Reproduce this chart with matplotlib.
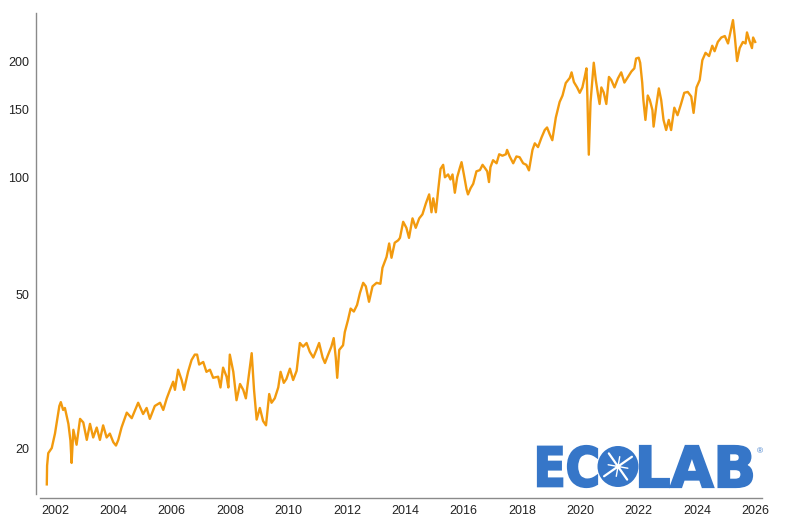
import math
import matplotlib
matplotlib.use('Agg')
import matplotlib.pyplot as plt
from matplotlib.ticker import NullLocator
from matplotlib.textpath import TextPath
from matplotlib.patches import PathPatch, Circle
from matplotlib.font_manager import FontProperties
from matplotlib.transforms import Affine2D
from matplotlib.lines import Line2D

plt.rcParams['font.family'] = ['Liberation Sans', 'DejaVu Sans']

# Share price (USD), x as decimal years
years = [
    2001.72, 2001.73, 2001.77, 2001.89, 2002.00, 2002.06, 2002.15, 2002.20, 2002.28, 2002.34,
    2002.46, 2002.53, 2002.57, 2002.63, 2002.74, 2002.86, 2002.97, 2003.09, 2003.20, 2003.31,
    2003.43, 2003.54, 2003.65, 2003.77, 2003.88, 2004.00, 2004.09, 2004.17, 2004.28, 2004.46,
    2004.63, 2004.85, 2005.02, 2005.14, 2005.25, 2005.42, 2005.60, 2005.71, 2005.83, 2005.94,
    2006.05, 2006.11, 2006.22, 2006.34, 2006.42, 2006.56, 2006.68, 2006.79, 2006.87, 2006.94,
    2007.08, 2007.19, 2007.31, 2007.42, 2007.59, 2007.67, 2007.76, 2007.88, 2007.94, 2007.99,
    2008.11, 2008.22, 2008.34, 2008.45, 2008.54, 2008.62, 2008.74, 2008.82, 2008.91, 2009.02,
    2009.13, 2009.23, 2009.34, 2009.42, 2009.53, 2009.65, 2009.73, 2009.84, 2009.93, 2010.05,
    2010.16, 2010.28, 2010.39, 2010.50, 2010.62, 2010.73, 2010.85, 2010.96, 2011.05, 2011.17,
    2011.25, 2011.36, 2011.47, 2011.55, 2011.62, 2011.67, 2011.74, 2011.87, 2011.93, 2012.04,
    2012.13, 2012.24, 2012.35, 2012.45, 2012.56, 2012.65, 2012.76, 2012.88, 2013.02, 2013.15,
    2013.22, 2013.36, 2013.45, 2013.53, 2013.64, 2013.76, 2013.82, 2013.93, 2014.04, 2014.13,
    2014.25, 2014.36, 2014.48, 2014.59, 2014.71, 2014.82, 2014.90, 2014.96, 2015.05, 2015.13,
    2015.21, 2015.30, 2015.36, 2015.47, 2015.55, 2015.62, 2015.70, 2015.78, 2015.87, 2015.93,
    2016.01, 2016.10, 2016.15, 2016.24, 2016.33, 2016.44, 2016.56, 2016.65, 2016.73, 2016.81,
    2016.87, 2016.92, 2017.01, 2017.13, 2017.22, 2017.33, 2017.45, 2017.49, 2017.58, 2017.70,
    2017.81, 2017.92, 2018.04, 2018.15, 2018.24, 2018.36, 2018.44, 2018.55, 2018.67, 2018.78,
    2018.86, 2018.95, 2019.04, 2019.16, 2019.29, 2019.39, 2019.50, 2019.64, 2019.70, 2019.78,
    2019.89, 2019.98, 2020.07, 2020.15, 2020.21, 2020.24, 2020.29, 2020.35, 2020.41, 2020.46,
    2020.53, 2020.61, 2020.66, 2020.72, 2020.80, 2020.89, 2020.98, 2021.06, 2021.17, 2021.29,
    2021.40, 2021.51, 2021.63, 2021.75, 2021.85, 2021.91, 2022.00, 2022.05, 2022.12, 2022.16,
    2022.23, 2022.31, 2022.38, 2022.47, 2022.51, 2022.60, 2022.69, 2022.77, 2022.85, 2022.94,
    2023.03, 2023.11, 2023.22, 2023.33, 2023.45, 2023.56, 2023.68, 2023.80, 2023.88, 2023.98,
    2024.09, 2024.18, 2024.29, 2024.41, 2024.52, 2024.60, 2024.71, 2024.83, 2024.95, 2025.06,
    2025.14, 2025.23, 2025.29, 2025.37, 2025.46, 2025.57, 2025.66, 2025.71, 2025.79, 2025.88,
    2025.92, 2025.99,
]
prices = [
    16.2, 18.1, 19.5, 20.1, 21.9, 23.4, 25.8, 26.4, 25.2, 25.5,
    23.2, 21.0, 18.4, 22.4, 20.5, 23.9, 23.4, 21.1, 23.2, 21.4,
    22.7, 21.1, 23.0, 21.4, 21.9, 20.8, 20.4, 21.1, 22.7, 24.8,
    24.0, 26.3, 24.6, 25.5, 23.9, 25.8, 26.3, 25.2, 27.0, 28.4,
    29.8, 28.4, 32.0, 30.1, 28.4, 31.6, 33.9, 35.0, 35.0, 33.0,
    33.5, 31.6, 32.0, 30.5, 30.7, 28.8, 32.4, 30.7, 28.8, 35.0,
    31.6, 26.7, 29.4, 28.4, 27.0, 30.1, 35.3, 28.4, 23.8, 25.5,
    23.6, 23.0, 27.7, 26.3, 27.0, 28.8, 31.6, 29.6, 30.3, 32.2,
    30.1, 31.8, 37.5, 36.7, 37.5, 35.6, 34.4, 36.0, 37.5, 34.4,
    33.3, 35.0, 36.7, 38.6, 34.4, 30.5, 36.0, 37.0, 40.0, 43.0,
    46.0, 45.2, 47.0, 50.5, 53.6, 52.5, 47.9, 52.5, 53.6, 53.3,
    58.6, 62.5, 67.7, 62.2, 68.0, 69.0, 70.0, 77.0, 74.3, 70.0,
    78.6, 74.3, 78.6, 80.5, 86.0, 90.6, 81.5, 88.5, 81.5, 93.0,
    105.4, 108.0, 100.3, 102.0, 99.0, 102.0, 91.5, 100.3, 106.0, 109.7,
    102.0, 93.5, 90.6, 94.0, 96.5, 103.9, 104.7, 108.0, 106.0, 103.9,
    97.5, 106.5, 111.0, 109.0, 115.0, 114.0, 115.0, 118.0, 113.5, 109.0,
    113.5, 113.0, 109.0, 108.0, 104.5, 118.0, 122.7, 120.0, 127.0, 132.8,
    134.8, 129.5, 125.0, 143.0, 156.8, 163.0, 175.5, 181.0, 187.0, 176.5,
    171.0, 165.6, 171.0, 182.0, 191.5, 163.0, 114.7, 156.8, 178.7, 198.0,
    178.7, 163.0, 155.0, 171.0, 166.0, 155.0, 182.0, 178.7, 171.0, 180.5,
    187.0, 176.0, 182.0, 188.0, 191.5, 203.0, 204.0, 198.0, 176.0, 158.7,
    141.0, 163.0, 158.7, 149.5, 135.5, 153.0, 170.0, 158.7, 141.0, 132.8,
    141.0, 132.8, 151.6, 145.0, 155.0, 165.6, 166.5, 162.0, 147.0, 171.0,
    178.7, 201.0, 210.0, 206.0, 219.0, 212.0, 224.0, 230.0, 232.0, 222.0,
    237.0, 255.0, 232.0, 200.0, 216.0, 224.0, 222.0, 237.0, 226.0, 216.0,
    230.0, 224.0,
]

y_ticks = [20, 50, 100, 150, 200]
x_ticks = list(range(2002, 2027, 2))

fig = plt.figure(figsize=(8, 5.2), dpi=100)
ax = fig.add_axes([0.045, 0.05, 0.911, 0.925])

ax.plot(years, prices, color='#F29A0E', lw=1.7, solid_joinstyle='round')

ax.set_yscale('log')
ax.set_ylim(15.3, 266)
ax.set_xlim(2001.35, 2026.32)
ax.set_yticks(y_ticks)
ax.set_yticklabels([str(t) for t in y_ticks])
ax.yaxis.set_minor_locator(NullLocator())
ax.set_xticks(x_ticks)
ax.set_xticklabels([str(t) for t in x_ticks])
ax.tick_params(length=0, labelsize=9, colors='#222222', pad=5)

for s in ['top', 'right']:
    ax.spines[s].set_visible(False)
for s in ['left', 'bottom']:
    ax.spines[s].set_color('#8a8a8a')
    ax.spines[s].set_linewidth(1.0)
ax.spines['bottom'].set_position(('outward', 3))
ax.spines['bottom'].set_bounds(2001.49, 2026.21)

# ECOLAB logo, drawn in figure pixels (origin bottom-left)
blue = '#3676C8'
px = Affine2D().scale(1 / 800, 1 / 520) + fig.transFigure
logo_font = FontProperties(family='DejaVu Sans', weight='bold')


def logo_word(text, x0, x1, y0, y1):
    tp = TextPath((0, 0), text, size=100, prop=logo_font)
    bb = tp.get_extents()
    tr = (Affine2D().translate(-bb.x0, -bb.y0)
          .scale((x1 - x0) / bb.width, (y1 - y0) / bb.height)
          .translate(x0, y0))
    fig.add_artist(PathPatch(tr.transform_path(tp), fc=blue, ec=blue,
                             lw=1.6, transform=px))


logo_word('EC', 538, 597, 33, 74)
logo_word('LAB', 640, 752, 33, 74)

cx, cy, r = 618, 53.5, 20.5
fig.add_artist(Circle((cx, cy), r, fc=blue, ec='none', transform=px))
for ang, ln, w in [(35, 17, 1.6), (125, 16, 1.6), (80, 10, 1.0), (170, 10, 1.0)]:
    dx = ln * math.cos(math.radians(ang))
    dy = ln * math.sin(math.radians(ang))
    fig.add_artist(Line2D([cx - dx, cx + dx], [cy - dy, cy + dy], color='white',
                          lw=w, transform=px, solid_capstyle='round'))
fig.add_artist(Circle((cx, cy), 2.5, fc='white', ec='none', transform=px))
fig.text(760 / 800, 1 - 452 / 520, '®', color=blue, fontsize=6,
         ha='center', va='center')

fig.savefig('out.png', dpi=100, facecolor='white')
